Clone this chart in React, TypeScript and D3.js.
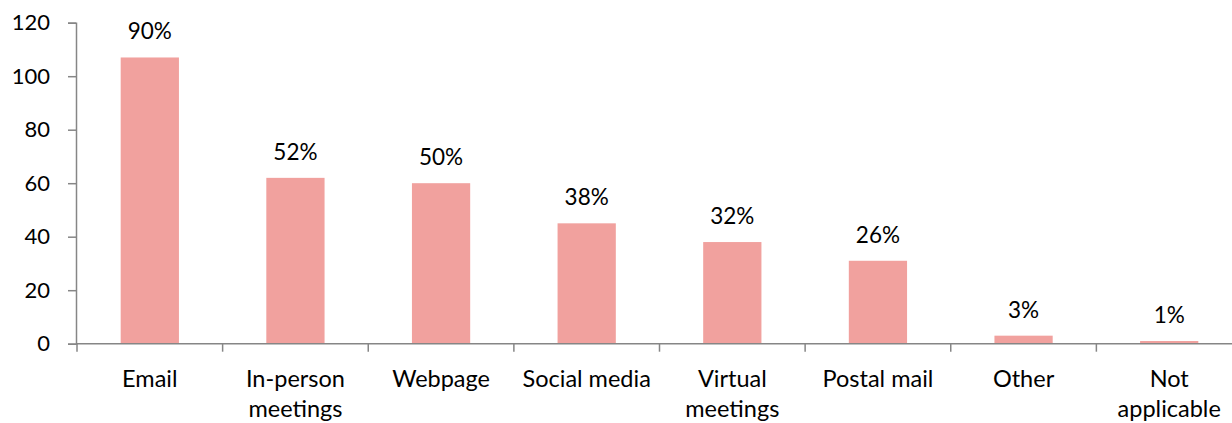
import { useEffect, useRef } from 'react';
import * as d3 from 'd3';

// datos
const categories = ['Email', 'In-person meetings', 'Webpage', 'Social media', 'Virtual meetings', 'Postal mail', 'Other', 'Not applicable'];
const counts = [107, 62, 60, 45, 38, 31, 3, 1];
const percents = ['90%', '52%', '50%', '38%', '32%', '26%', '3%', '1%'];
const yTicks = [0, 20, 40, 60, 80, 100, 120];

const W = 1232;
const H = 423;
const FONT = 'Lato, "Open Sans", sans-serif';

const App = () => {
  const svgRef = useRef<SVGSVGElement>(null);

  useEffect(() => {
    const svg = d3.select(svgRef.current);
    svg.selectAll('*').remove();

    const x = d3.scaleBand().domain(categories).range([77, 1242]).paddingInner(0.6).paddingOuter(0.3);
    const y = d3.scaleLinear().domain([0, 120]).range([343.7, 22.7]);
    const axisColor = '#868686';

    // eje Y
    const yAxis = svg.append('g').attr('transform', 'translate(76,0)')
      .call(d3.axisLeft(y).tickValues(yTicks).tickSize(8).tickPadding(18));
    yAxis.select('.domain').attr('stroke', axisColor).attr('stroke-width', 1.5);
    yAxis.selectAll('.tick line').attr('stroke', axisColor).attr('stroke-width', 1.5);
    yAxis.selectAll('.tick text').attr('fill', '#000').style('font-family', FONT).style('font-size', '22px');

    // barras
    svg.append('g').selectAll('rect')
      .data(categories)
      .enter().append('rect')
      .attr('x', d => x(d)!)
      .attr('width', x.bandwidth())
      .attr('y', (d, i) => y(counts[i]))
      .attr('height', (d, i) => y(0) - y(counts[i]))
      .attr('fill', '#F1A19E');

    // eje X
    const step = x.step();
    const xg = svg.append('g');
    xg.append('line').attr('x1', 76).attr('x2', 1242).attr('y1', y(0)).attr('y2', y(0))
      .attr('stroke', axisColor).attr('stroke-width', 1.5);
    xg.selectAll('.xt').data(d3.range(categories.length + 1)).enter().append('line')
      .attr('x1', i => 77 + i * step).attr('x2', i => 77 + i * step)
      .attr('y1', y(0)).attr('y2', y(0) + 8)
      .attr('stroke', axisColor).attr('stroke-width', 1.5);

    // etiquetas de categoría (dos líneas)
    const lab = svg.append('g').selectAll('text')
      .data(categories)
      .enter().append('text')
      .attr('text-anchor', 'middle')
      .style('font-family', FONT).style('font-size', '23.5px').attr('fill', '#000');
    lab.each(function (d) {
      const t = d3.select(this);
      const cx = x(d)! + x.bandwidth() / 2;
      const words = d.split(' ');
      const lines = words.length > 1 ? [words[0], words.slice(1).join(' ')] : [d];
      if (d === 'Social media' || d === 'Postal mail') lines.splice(0, lines.length, d);
      lines.forEach((l, k) => {
        t.append('tspan').attr('x', cx).attr('y', y(0) + 43.5 + k * 30).text(l);
      });
    });

    // porcentajes
    svg.append('g').selectAll('text')
      .data(categories)
      .enter().append('text')
      .attr('x', d => x(d)! + x.bandwidth() / 2)
      .attr('y', (d, i) => y(counts[i]) - 18)
      .attr('text-anchor', 'middle')
      .style('font-family', FONT).style('font-size', '22.5px').attr('fill', '#000')
      .text((d, i) => percents[i]);
  }, []);

  return <svg ref={svgRef} width={W} height={H} style={{ position: 'absolute', left: 0, top: 0, background: '#fff' }}></svg>;
};

export default App;
